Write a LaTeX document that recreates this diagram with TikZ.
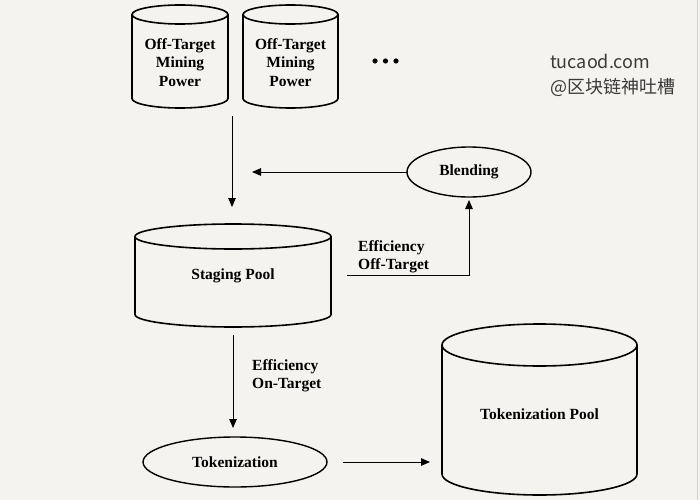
\documentclass[tikz,border=0pt]{standalone}
\usepackage{fontspec}
\setmainfont{Liberation Serif}
\newfontfamily\cjkfont{Noto Sans CJK SC}
\usetikzlibrary{shapes.geometric,arrows.meta,calc}
\definecolor{paper}{HTML}{F5F3EF}
\definecolor{inkgray}{HTML}{3A3A3A}
\tikzset{
  pool/.style={rectangle, inner sep=0pt, outer sep=0pt, align=center,
    font=\fontsize{15.5}{18.5}\selectfont\bfseries},
  poolline/.style={line width=1.6pt},
  stage/.style={ellipse, draw, line width=1.4pt, inner sep=0pt, outer sep=0pt,
    font=\fontsize{15.5}{18.5}\selectfont\bfseries},
  flow/.style={line width=0.9pt, -{Triangle[length=9pt,width=7.5pt]}},
  flowtext/.style={anchor=west, align=left, inner sep=0pt,
    font=\fontsize{15.5}{18}\selectfont\bfseries},
  wmark/.style={anchor=west, inner sep=0pt, text=inkgray,
    font=\cjkfont\fontsize{18}{20}\selectfont},
}
% cylinder outline round a pool node: #1 node, #2 cap radius
\newcommand\drawpool[2]{%
  \draw[poolline] let \p1=(#1.north west), \p2=(#1.south east), \n1={(\x2-\x1)/2} in
    (\x1+\n1,\y1-#2) ellipse [x radius=\n1, y radius=#2]
    (\x1,\y1-#2) -- (\x1,\y2+#2)
    arc [start angle=180, end angle=360, x radius=\n1, y radius=#2]
    -- (\x2,\y1-#2);
}
\begin{document}
\begin{tikzpicture}[x=1pt,y=-1pt]
    \fill[paper] (0,0) rectangle (700,500);
    \useasboundingbox (0,0) rectangle (700,500);
    \draw[gray!35, line width=1.5pt] (697.5,0) -- (697.5,500);
    % mining power sources
    \node[pool, minimum width=96pt, minimum height=103pt, text height=59.5pt] (mine1) at (180,56.5) {Off-Target\\Mining\\Power};
    \node[pool, minimum width=95pt, minimum height=103pt, text height=59.5pt] (mine2) at (290.5,56.5) {Off-Target\\Mining\\Power};
    \drawpool{mine1}{9.5pt}
    \drawpool{mine2}{9.5pt}
    \foreach \dx in {0,10.5,21}
        \fill (375+\dx,61) circle (2.6pt);
    % pools and stages
    \node[pool, minimum width=196pt, minimum height=103pt] (staging) at (233,275.5) {Staging Pool};
    \drawpool{staging}{12.5pt}
    \node[stage, minimum width=124pt, minimum height=50pt] (blend) at (469,172) {Blending};
    \node[stage, minimum width=184pt, minimum height=50pt] (tok) at (235,462) {Tokenization};
    \node[pool, minimum width=195pt, minimum height=171pt, text height=19.5pt] (tokpool) at (539.5,409.5) {Tokenization Pool};
    \drawpool{tokpool}{21pt}
    % labels
    \node[flowtext] (offlbl) at (358,257) {Efficiency\\Off-Target};
    \node[flowtext] (onlbl) at (252,376) {Efficiency\\On-Target};
    % watermark
    \node[wmark] (site) at (550,61) {tucaod.com};
    \node[wmark] (handle) at (550,87) {@区块链神吐槽};
    % connectors
    \coordinate (merge) at (232,116);
    \coordinate (feed) at (252,174);
    \draw[flow, shorten >=17pt] (merge) -- (merge |- staging.north);
    \draw[flow] (blend.west) -- (blend.west -| feed);
    \draw[flow, shorten >=3pt] ([xshift=16pt]staging.east) -| (blend.south);
    \draw[flow, shorten <=8pt, shorten >=9pt] (staging.south) -- (staging.south |- tok.north);
    \draw[flow, shorten <=16pt, shorten >=12pt] (tok.east) -- (tok.east -| tokpool.west);
\end{tikzpicture}
\end{document}
